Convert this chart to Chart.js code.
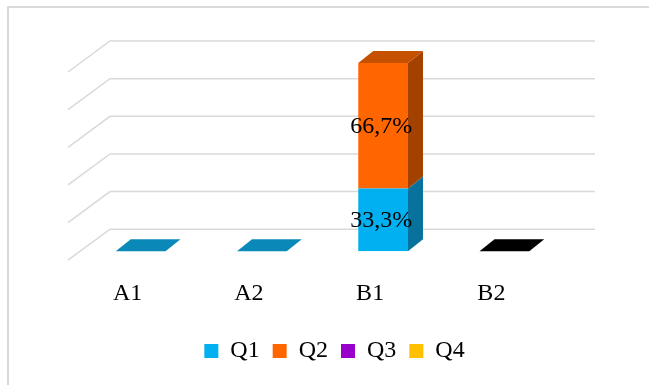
<!DOCTYPE html>
<html>
<head>
<meta charset="utf-8">
<script src="https://cdn.jsdelivr.net/npm/chart.js@4.4.1/dist/chart.umd.min.js"></script>
<style>
  html, body { margin: 0; padding: 0; background: #fff; }
  #wrap { position: relative; width: 649px; height: 385px; }
  #frame { position: absolute; left: 7px; top: 6px; width: 700px; height: 400px;
           border-top: 2px solid #d9d9d9; border-left: 2px solid #d9d9d9; box-sizing: border-box; }
  canvas { position: absolute; left: 0; top: 0; }
</style>
</head>
<body>
<div id="wrap">
  <div id="frame"></div>
  <canvas id="chart" width="649" height="385"></canvas>
</div>
<script>
  const categories = ["A1", "A2", "B1", "B2"];
  const seriesNames = ["Q1", "Q2", "Q3", "Q4"];
  const q1 = [0, 0, 0.333, 0];
  const q2 = [0, 0, 0.667, 0];
  const q3 = [0, 0, 0, 0];
  const q4 = [0, 0, 0, 0];
  const gridTicks = [0, 0.2, 0.4, 0.6, 0.8, 1];

  const fillColors = ["#00b0f0", "#ff6600", "#9900cc", "#ffc000"];
  const sideColors = ["#08729c", "#a34200", "#63008a", "#a67d00"];
  const topColors  = ["#0a88b8", "#c45000", "#7a00a3", "#cc9a00"];
  const emptyCapColors = ["#0a88b8", "#0a88b8", null, "#000000"];

  const DEPTH = { dx: 15, dy: -12 };   // bar depth
  const WALL  = { dx: 30, dy: -22 };   // back wall offset from bar plane
  const FLOOR = { dx: -12, dy: 9 };    // front edge offset from bar plane
  const FONT = "'Liberation Serif', 'Times New Roman', serif";

  const threeD = {
    id: "threeD",
    afterLayout(chart) {
      // legend sits a bit right of the plot centre in the original
      chart.legend.left += 12;
      chart.legend.right += 12;
    },
    beforeDatasetsDraw(chart) {
      const { ctx, chartArea: a, scales: { y } } = chart;
      ctx.save();
      ctx.strokeStyle = "#d9d9d9";
      ctx.lineWidth = 1.5;
      gridTicks.forEach((v) => {
        const py = y.getPixelForValue(v);
        ctx.beginPath();
        ctx.moveTo(a.left + FLOOR.dx, py + FLOOR.dy);
        ctx.lineTo(a.left + WALL.dx, py + WALL.dy);
        ctx.lineTo(a.right + WALL.dx, py + WALL.dy);
        ctx.stroke();
      });
      ctx.restore();
    },
    afterDatasetsDraw(chart) {
      const { ctx, scales: { y } } = chart;
      const y0 = y.getPixelForValue(0);
      ctx.save();
      categories.forEach((cat, i) => {
        let topIdx = -1;
        chart.data.datasets.forEach((ds, d) => {
          if (ds.data[i] > 0) topIdx = d;
        });
        if (topIdx < 0) {
          const bar = chart.getDatasetMeta(0).data[i];
          const col = emptyCapColors[i];
          if (!col) return;
          const l = bar.x - bar.width / 2, r = bar.x + bar.width / 2;
          ctx.fillStyle = col;
          ctx.beginPath();
          ctx.moveTo(l, y0);
          ctx.lineTo(r, y0);
          ctx.lineTo(r + DEPTH.dx, y0 + DEPTH.dy);
          ctx.lineTo(l + DEPTH.dx, y0 + DEPTH.dy);
          ctx.closePath();
          ctx.fill();
          return;
        }
        chart.data.datasets.forEach((ds, d) => {
          if (!(ds.data[i] > 0)) return;
          const bar = chart.getDatasetMeta(d).data[i];
          const l = bar.x - bar.width / 2, r = bar.x + bar.width / 2;
          const top = Math.min(bar.y, bar.base), bot = Math.max(bar.y, bar.base);
          ctx.fillStyle = sideColors[d];
          ctx.beginPath();
          ctx.moveTo(r, top);
          ctx.lineTo(r + DEPTH.dx, top + DEPTH.dy);
          ctx.lineTo(r + DEPTH.dx, bot + DEPTH.dy);
          ctx.lineTo(r, bot);
          ctx.closePath();
          ctx.fill();
          if (d === topIdx) {
            ctx.fillStyle = topColors[d];
            ctx.beginPath();
            ctx.moveTo(l, top);
            ctx.lineTo(r, top);
            ctx.lineTo(r + DEPTH.dx, top + DEPTH.dy);
            ctx.lineTo(l + DEPTH.dx, top + DEPTH.dy);
            ctx.closePath();
            ctx.fill();
          }
        });
      });
      // value labels
      ctx.fillStyle = "#000";
      ctx.font = "24px " + FONT;
      ctx.textAlign = "center";
      ctx.textBaseline = "middle";
      chart.data.datasets.forEach((ds, d) => {
        ds.data.forEach((v, i) => {
          if (!(v > 0)) return;
          const bar = chart.getDatasetMeta(d).data[i];
          const txt = (v * 100).toFixed(1).replace(".", ",") + "%";
          ctx.fillText(txt, bar.x - 2, (bar.y + bar.base) / 2 + 1);
        });
      });
      ctx.restore();
    },
  };

  new Chart(document.getElementById("chart"), {
    type: "bar",
    data: {
      labels: categories,
      datasets: [q1, q2, q3, q4].map((vals, k) => ({
        label: seriesNames[k],
        data: vals,
        backgroundColor: fillColors[k],
        borderWidth: 0,
        barPercentage: 0.41,
        categoryPercentage: 1,
      })),
    },
    options: {
      responsive: false,
      animation: false,
      layout: { padding: { left: 80, right: 84, top: 63, bottom: 12 } },
      scales: {
        x: {
          stacked: true,
          grid: { display: false, drawTicks: false },
          border: { display: false },
          ticks: { color: "#000", font: { family: FONT, size: 24 }, padding: 28, labelOffset: -13 },
          afterFit(scale) { scale.height -= 10; },
        },
        y: {
          stacked: true,
          display: false,
          min: 0,
          max: 1,
        },
      },
      plugins: {
        tooltip: { enabled: false },
        legend: {
          position: "bottom",
          labels: {
            color: "#000",
            font: { family: FONT, size: 24 },
            boxWidth: 14,
            boxHeight: 14,
            padding: 13,
          },
        },
      },
    },
    plugins: [threeD],
  });
</script>
</body>
</html>
